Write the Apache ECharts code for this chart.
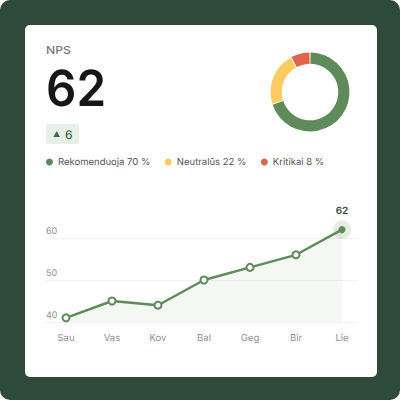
<!DOCTYPE html>
<html>
<head>
<meta charset="utf-8">
<style>
html, body { margin: 0; padding: 0; background: #ffffff; }
#chart { width: 400px; height: 400px; text-rendering: geometricPrecision; }
</style>
<script src="https://cdn.jsdelivr.net/npm/echarts@6/dist/echarts.min.js"></script>
</head>
<body>
<div id="chart"></div>
<script>
const months = ['Sau', 'Vas', 'Kov', 'Bal', 'Geg', 'Bir', 'Lie'];
const npsValues = [41, 45, 44, 50, 53, 56, 62];
const segmentNames = ['Rekomenduoja', 'Neutralūs', 'Kritikai'];
const segmentValues = [70, 22, 8];
const segmentColors = ['#5f8b5a', '#fdcb5f', '#e0634c'];

const font = 'Inter';
const green = '#5f8b5a';
const dark = '#2d4a3a';
const last = months.length - 1;

const chart = echarts.init(document.getElementById('chart'), null, { renderer: 'svg' });

chart.setOption({
    animation: false,
    textStyle: { fontFamily: font },
    graphic: [
        { type: 'rect', z: -20, shape: { x: 0, y: 0, width: 400, height: 400, r: 10 }, style: { fill: dark } },
        { type: 'rect', z: -19, shape: { x: 25, y: 25, width: 352, height: 352, r: 5 }, style: { fill: '#ffffff' } },
        { type: 'text', x: 46, y: 44, scaleX: 1.1, style: { text: 'NPS', fill: '#777777', font: '500 11px Inter' } },
        { type: 'text', x: 46, y: 64, scaleX: 0.95, style: { text: '62', fill: '#161616', font: '600 50px Inter' } },
        { type: 'rect', shape: { x: 46, y: 124, width: 33, height: 20, r: 2 }, style: { fill: '#e8efe8' } },
        { type: 'polygon', shape: { points: [[56.7, 131], [60, 137], [53.4, 137]] }, style: { fill: '#3a6b45' } },
        { type: 'text', x: 65, y: 128, style: { text: '6', fill: '#3a6b45', font: '500 12px Inter' } }
    ],
    legend: {
        left: 46,
        top: 157,
        itemWidth: 7,
        itemHeight: 7,
        itemGap: 14.5,
        icon: 'circle',
        selectedMode: false,
        padding: 0,
        itemStyle: { borderWidth: 0 },
        textStyle: { fontFamily: font, fontSize: 9.5, color: '#555' },
        formatter: name => name + ' ' + segmentValues[segmentNames.indexOf(name)] + ' %',
        data: segmentNames
    },
    grid: [
        { left: 46, width: 312, top: 238, height: 84 },
        { left: 66, width: 276, top: 238, height: 84 }
    ],
    xAxis: [
        { gridIndex: 0, type: 'value', min: 0, max: 1, show: false },
        {
            gridIndex: 1,
            type: 'category',
            data: months,
            boundaryGap: false,
            axisLine: { show: false },
            axisTick: { show: false },
            axisLabel: { color: '#909090', fontSize: 9.5, margin: 11, fontFamily: font }
        }
    ],
    yAxis: [
        {
            gridIndex: 0,
            type: 'value',
            min: 40,
            max: 60,
            interval: 10,
            axisLine: { show: false },
            axisTick: { show: false },
            axisLabel: { inside: true, verticalAlign: 'bottom', color: '#909090', fontSize: 9, margin: 0, fontFamily: font, padding: [0, 0, 2, 0] },
            splitLine: { lineStyle: { color: '#f1f2f0', width: 1 } }
        },
        { gridIndex: 1, type: 'value', min: 40, max: 60, interval: 10, show: false }
    ],
    series: [
        {
            type: 'pie',
            center: [310, 92],
            radius: [28.3, 39.5],
            startAngle: 90,
            padAngle: 1.6,
            label: { show: false },
            labelLine: { show: false },
            silent: true,
            data: segmentNames.map((name, i) => ({
                name: name,
                value: segmentValues[i],
                itemStyle: { color: segmentColors[i] }
            }))
        },
        {
            type: 'scatter',
            xAxisIndex: 1,
            yAxisIndex: 1,
            clip: false,
            silent: true,
            symbolSize: 18,
            z: 1,
            itemStyle: { color: green, opacity: 0.16 },
            data: [[months[last], npsValues[last]]]
        },
        {
            type: 'line',
            xAxisIndex: 1,
            yAxisIndex: 1,
            clip: false,
            z: 3,
            symbol: 'circle',
            symbolSize: 7,
            showAllSymbol: true,
            lineStyle: { color: green, width: 2.4 },
            itemStyle: { color: '#ffffff', borderColor: green, borderWidth: 2 },
            areaStyle: { color: green, opacity: 0.07 },
            data: npsValues.map((v, i) => i === last ? {
                value: v,
                itemStyle: { color: green, borderColor: green, borderWidth: 0 },
                label: { show: true, position: 'top', distance: 10, formatter: '{c}', color: dark, fontSize: 10, fontWeight: 600, fontFamily: font }
            } : v)
        }
    ]
});
</script>
</body>
</html>
